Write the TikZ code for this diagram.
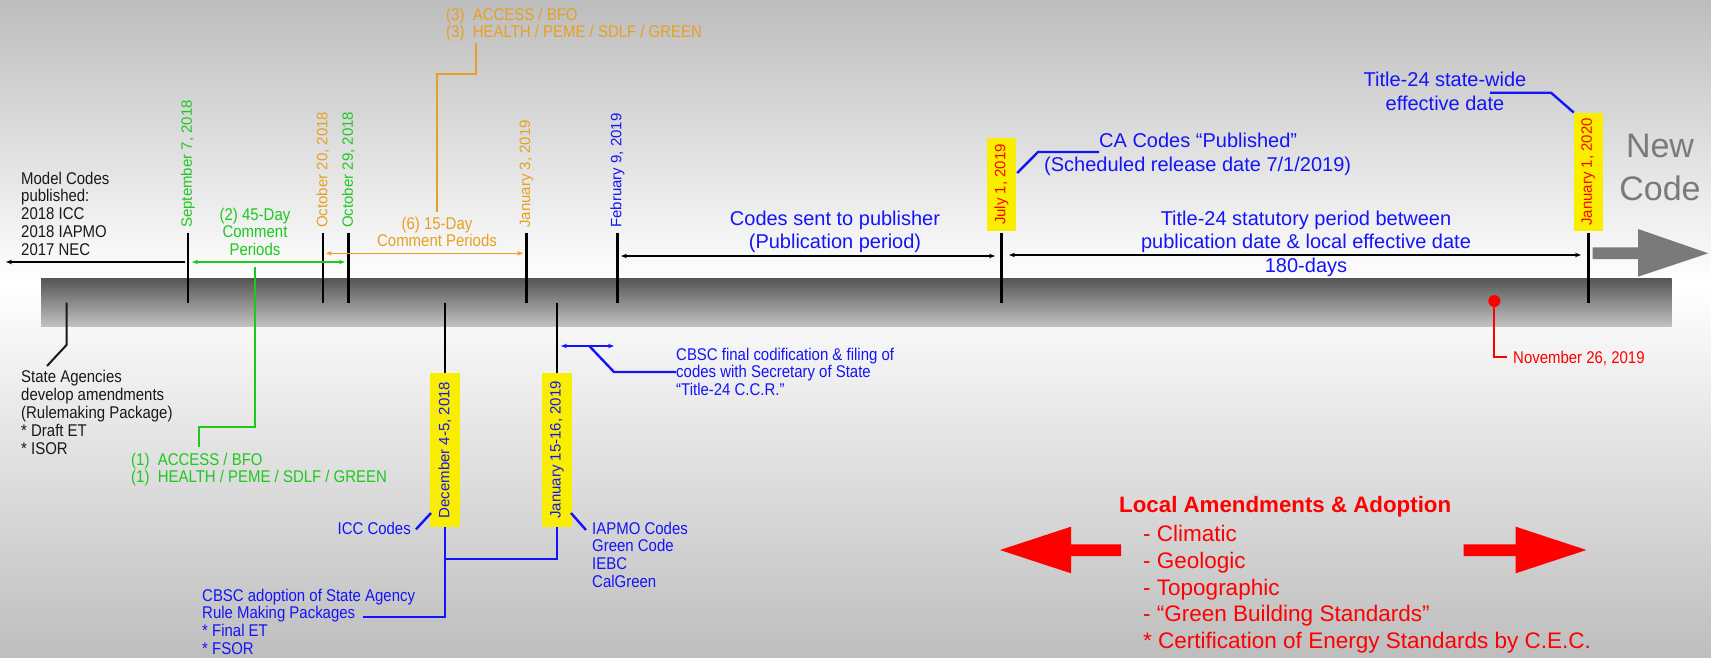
\documentclass[tikz,border=0pt]{standalone}
\usepackage{fontspec}
\setmainfont{Liberation Sans}
\newfontfamily\nf{Liberation Sans}[FakeStretch=0.88]
\usetikzlibrary{arrows.meta}
\definecolor{cgreen}{RGB}{30,200,30}
\definecolor{corange}{RGB}{230,160,35}
\definecolor{cblue}{RGB}{20,20,250}
\definecolor{cred}{RGB}{255,0,0}
\definecolor{cyellow}{RGB}{250,238,0}
\definecolor{cgraytext}{RGB}{122,122,122}
\definecolor{bgtop}{RGB}{189,189,189}
\definecolor{bgbot}{RGB}{190,190,190}
\definecolor{bartop}{RGB}{85,85,85}
\definecolor{barbot}{RGB}{195,195,195}
\definecolor{txt}{RGB}{25,25,25}
\begin{document}
\begin{tikzpicture}[x=1pt,y=-1pt,
  narrow/.style={font=\nf\fontsize{17}{17.8}\selectfont, inner sep=0pt, text=txt},
  big/.style={font=\fontsize{20}{23.5}\selectfont, inner sep=0pt, text=cblue},
  rdate/.style={rotate=90, font=\fontsize{15}{18}\selectfont, inner sep=0pt, anchor=west},
  ybox/.style={rotate=90, fill=cyellow, font=\fontsize{15}{18}\selectfont, inner sep=0pt},
  tickline/.style={line width=2.4pt, black},
  conn/.style={line width=2pt},
  bconn/.style={line width=2.4pt, cblue},
  thinarr/.style={line width=1.2pt, {Stealth[length=6pt,width=4.5pt]}-{Stealth[length=6pt,width=4.5pt]}},
]
\useasboundingbox (0,0) rectangle (1711,657);
% background
\shade[top color=bgtop, bottom color=white] (0,0) rectangle (1711,285);
\shade[top color=white, bottom color=bgbot] (0,284.5) rectangle (1711,657);

% bar
\node[minimum width=1630.7pt, minimum height=48.4pt, inner sep=0pt, top color=bartop, bottom color=barbot] (bar) at (856.35,302.5) {};

% upper rotated dates
\node[rdate, text=cgreen] (sep) at (188,228) {September 7, 2018};
\node[rdate, text=corange] (oct20) at (323,228) {October 20, 2018};
\node[rdate, text=cgreen] (oct29) at (348.5,228) {October 29, 2018};
\node[rdate, text=corange] (jan3) at (526.5,228) {January 3, 2019};
\node[rdate, text=cblue] (feb9) at (617.5,228) {February 9, 2019};
\node[ybox, minimum width=93pt, minimum height=29pt, text=cred] (jul) at (1001.5,184.5) {July 1, 2019};
\node[ybox, minimum width=118.3pt, minimum height=28.7pt, text=cred] (jan20) at (1588.3,171.9) {January 1, 2020};

\foreach \n in {sep,oct20,oct29,jan3,feb9}
  \draw[tickline] ([yshift=-5pt]\n.west) -- (\n.west |- bar.center);
\draw[tickline] ([yshift=-2pt]jul.west) -- (jul.west |- bar.center);
\draw[tickline] ([yshift=-2pt]jan20.west) -- (jan20.west |- bar.center);

% lower boxes
\node[ybox, minimum width=154pt, minimum height=30pt, text=cblue] (dec) at (445,450) {December 4-5, 2018};
\node[ybox, minimum width=154pt, minimum height=30pt, text=cblue] (jan15) at (557,450) {January 15-16, 2019};
\draw[tickline] (bar.center -| dec.east) -- (dec.east);
\draw[tickline] (bar.center -| jan15.east) -- (jan15.east);

% model codes
\node[narrow, align=left, anchor=north west] (mc) at (21,171.6) {Model Codes\\published:\\2018 ICC\\2018 IAPMO\\2017 NEC};
\coordinate (mcL) at (6,262);
\draw[line width=1.2pt, -{Stealth[length=6pt,width=4.5pt]}] ([xshift=-3pt]sep.west |- mcL) -- (mcL);

% state agencies
\node[narrow, align=left, anchor=north west] (sa) at (21,370.3) {State Agencies\\develop amendments\\(Rulemaking Package)\\* Draft ET\\* ISOR};
\coordinate (sa1) at (66.5,345);
\coordinate (sa2) at (47,366);
\draw[line width=2pt, txt] (bar.center -| sa1) -- (sa1) -- (sa2);

% green 45-day
\node[narrow, align=center, anchor=north, text=cgreen] (c45) at (255,207.6) {(2) 45-Day\\Comment\\Periods};
\coordinate (g45L) at (192,262);
\coordinate (g45R) at (345,262);
\draw[thinarr, cgreen] (g45L) -- (g45R);
\node[narrow, align=left, anchor=north west, text=cgreen] (acc1) at (131,452.6) {(1)\ \ ACCESS / BFO\\(1)\ \ HEALTH / PEME / SDLF / GREEN};
\coordinate (g1) at (255,267);
\coordinate (gb) at (199,427);
\coordinate (ge) at (199,447);
\draw[conn, cgreen] (g1) |- (gb) -- (ge);

% orange 15-day
\node[narrow, align=center, anchor=north, text=corange] (c15) at (437,216.6) {(6) 15-Day\\Comment Periods};
\coordinate (o15L) at (326,253.3);
\coordinate (o15R) at (523,253.3);
\draw[thinarr, corange] (o15L) -- (o15R);
\node[narrow, align=left, anchor=north west, text=corange] (acc3) at (446,7.6) {(3)\ \ ACCESS / BFO\\(3)\ \ HEALTH / PEME / SDLF / GREEN};
\coordinate (ob) at (476,74);
\coordinate (oe) at (476,43);
\draw[conn, corange] ([yshift=4.6pt]c15.north) |- (ob) -- (oe);

% codes sent to publisher
\node[big, align=center, anchor=north] (pub) at (835,210.4) {Codes sent to publisher\\(Publication period)};
\coordinate (pubL) at (621,256);
\coordinate (pubR) at (995,256);
\draw[thinarr] (pubL) -- (pubR);

% title-24 statutory
\node[big, align=center, anchor=north] (stat) at (1306,210.4) {Title-24 statutory period between\\publication date \& local effective date\\180-days};
\coordinate (statL) at (1009,255);
\coordinate (statR) at (1581,255);
\draw[thinarr] (statL) -- (statR);

% CA codes published
\node[big, anchor=base west] (ca1) at (1099,147.7) {CA Codes “Published”};
\node[big, anchor=base west] (ca2) at (1044,171.7) {(Scheduled release date 7/1/2019)};
\coordinate (cab) at (1038,152);
\draw[bconn] ([xshift=1pt,yshift=11.5pt]jul.south) -- (cab) -- (ca1.west |- cab);

% title-24 state-wide
\node[big, font=\fontsize{20}{24}\selectfont, align=center, anchor=north] (sw) at (1445,71.4) {Title-24 state-wide\\effective date};
\coordinate (sw1) at (1490,92.7);
\coordinate (sw2) at (1551,92.7);
\draw[bconn] (sw1) -- (sw2) -- (jan20.north east);

% ICC / IAPMO
\node[narrow, anchor=base east, text=cblue] (icc) at (411,534) {ICC Codes};
\node[narrow, align=left, anchor=north west, text=cblue] (iapmo) at (592,521.6) {IAPMO Codes\\Green Code\\IEBC\\CalGreen};
\coordinate (icc1) at (416,529.3);
\coordinate (icc2) at (431,513);
\draw[bconn] (icc1) -- (icc2);
\coordinate (iap1) at (571,513);
\coordinate (iap2) at (586,530);
\draw[bconn] (iap1) -- (iap2);

% CBSC adoption
\node[narrow, align=left, anchor=north west, text=cblue] (adopt) at (202,588.6) {CBSC adoption of State Agency\\Rule Making Packages\\* Final ET\\* FSOR};
\coordinate (adb) at (445,617);
\coordinate (ade) at (362.5,617);
\coordinate (jb) at (445,559);
\draw[bconn] (dec.west) -- (adb) -- (ade);
\draw[bconn] (jan15.west) |- (jb);

% CBSC final codification
\node[narrow, align=left, anchor=north west, text=cblue] (fin) at (676,347.6) {CBSC final codification \& filing of\\codes with Secretary of State\\“Title-24 C.C.R.”};
\coordinate (finL) at (561,346);
\coordinate (finR) at (614,346);
\draw[thinarr, cblue] (finL) -- (finR);
\coordinate (fin1) at (589.3,346);
\coordinate (fin2) at (614,372);
\draw[bconn] (fin1) -- (fin2) -- (fin.west |- fin2);

% November 26
\node[narrow, anchor=base west, text=cred] (nov) at (1513,363) {November 26, 2019};
\coordinate (nd) at (1494.3,301);
\fill[cred] (nd) circle[radius=6pt];
\draw[conn, cred] (nd) |- ([xshift=-6pt,yshift=6pt]nov.base west);

% New Code
\node[font=\fontsize{34}{43.4}\selectfont, text=cgraytext, align=center, anchor=north, inner sep=0pt] (nc) at (1660,133.5) {New\\Code};
\fill[cgraytext] (1708.3,253.3) -- (1638,229) -- (1638,247.3) -- (1592.7,247.3) -- (1592.7,259) -- (1638,259) -- (1638,276.7) -- cycle;

% Local amendments
\node[anchor=base west, inner sep=0pt, font=\bfseries\fontsize{22.3}{27}\selectfont, text=cred] (loc) at (1119,512.7) {Local Amendments \& Adoption};
\node[anchor=north west, inner sep=0pt, align=left, font=\fontsize{22.5}{26.7}\selectfont, text=cred] (list) at (1143,525.3) {- Climatic\\- Geologic\\- Topographic\\- “Green Building Standards”\\* Certification of Energy Standards by C.E.C.};
\fill[cred] (1000,550) -- (1071,526.7) -- (1071,544.3) -- (1121,544.3) -- (1121,556) -- (1071,556) -- (1071,573.3) -- cycle;
\fill[cred] (1586.4,550) -- (1515.6,526.7) -- (1515.6,544.3) -- (1463.5,544.3) -- (1463.5,556) -- (1515.6,556) -- (1515.6,573.3) -- cycle;
\end{tikzpicture}
\end{document}
